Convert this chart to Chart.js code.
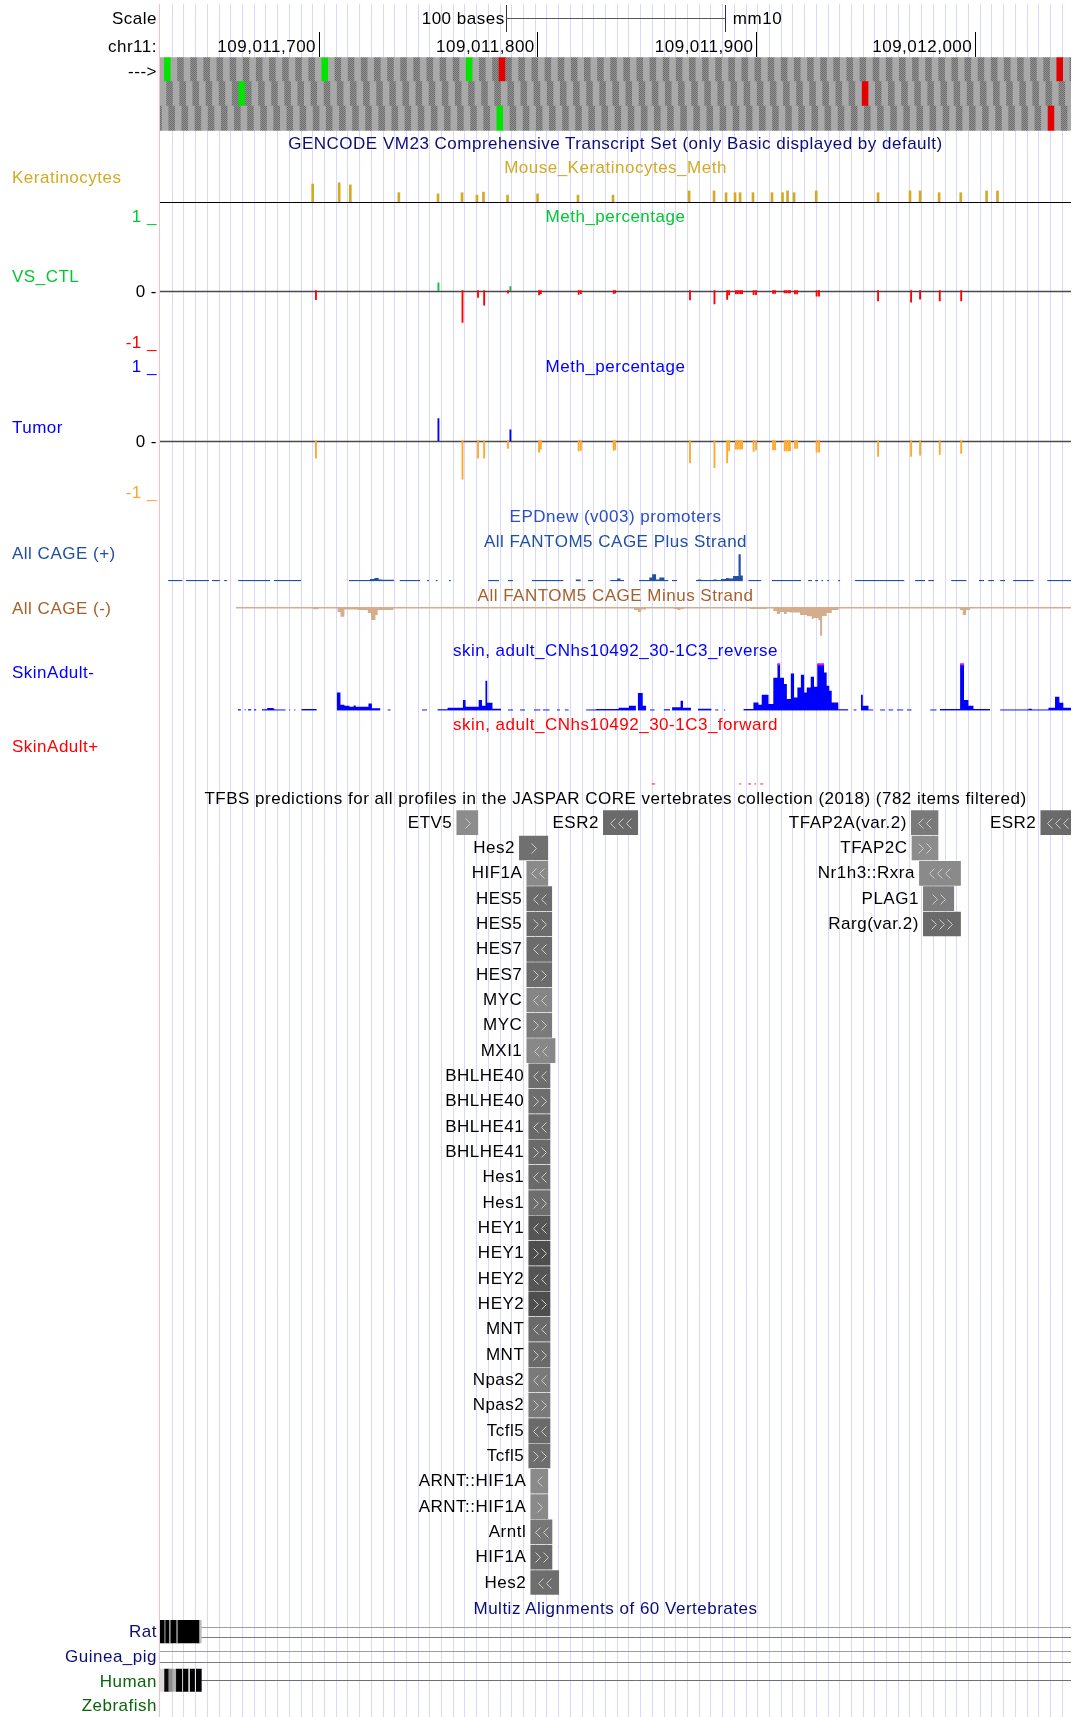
<!DOCTYPE html>
<html>
<head>
<meta charset="utf-8">
<title>chr11:109,011,628-109,012,044</title>
<script src="https://cdn.jsdelivr.net/npm/chart.js@4.4.1/dist/chart.umd.min.js"></script>
<style>
  html, body { margin: 0; padding: 0; background: #fff; }
  #page { position: relative; width: 1076px; height: 1717px; overflow: hidden;
          font-family: "Liberation Sans", Arial, Helvetica, sans-serif; font-size: 17px; letter-spacing: 0.5px; }
  #page canvas { position: absolute; left: 0; z-index: 1; }
  .t { position: absolute; white-space: nowrap; line-height: 20px; height: 20px; z-index: 5; }
</style>
</head>
<body>
<div id="page"></div>
<script>
// ---------- window ----------
const CHROM = 'chr11';
const ASSEMBLY = 'mm10';
const REGION_START = 109011627.5;      // genomic coordinate at the left edge of the data area
const REGION_END = 109012044;
const rulerTicks = [109011700, 109011800, 109011900, 109012000];
const SCALE_BAR_BASES = 100;
const GUIDE_STEP = 5.354;              // spacing of the blue guidelines, in bases

// ---------- base position track (three reading frames) ----------
const codonFrames = [2, 0, 1];
const codonShadePhase = [2, 3, 4];
const startCodons = [[2, 74, 140], [36], [154]];
const stopCodons = [[155, 410], [321], [406]];

// ---------- Mouse_Keratinocytes_Meth (offsets from window start) ----------
const kerSites = [69.8, 81.9, 87.0, 109.2, 127.1, 138.1, 144.9, 147.9, 158.9, 172.6, 191.1, 207.1, 241.9, 253.3,
  258.8, 262.9, 265.2, 271.1, 279.8, 284.6, 286.9, 289.9, 300.0, 328.3, 342.9, 347.5, 356.2, 366.1, 377.9, 382.9];
const kerValues = [0.60, 0.64, 0.57, 0.31, 0.27, 0.31, 0.23, 0.33, 0.23, 0.27, 0.23, 0.23, 0.37, 0.37,
  0.31, 0.31, 0.31, 0.31, 0.31, 0.31, 0.37, 0.31, 0.37, 0.31, 0.37, 0.37, 0.31, 0.31, 0.37, 0.37];

// ---------- Meth_percentage: VS_CTL and Tumor ----------
const methSites = [71.3, 127.3, 138.3, 145.4, 148.2, 159.1, 160.2, 173.3, 174.1, 191.4, 192.4, 207.4, 208.1,
  242.3, 253.5, 259.3, 260.2, 263.3, 264.2, 265.2, 266.1, 271.4, 272.5, 280.3, 281.2, 285.6, 286.4, 287.3,
  288.0, 290.3, 291.3, 300.2, 301.3, 328.3, 343.4, 347.5, 356.5, 366.3];
const vsCtlValues = [-0.15, 0.13, -0.53, -0.11, -0.24, -0.04, 0.07, -0.07, -0.05, -0.06, -0.05, -0.045, -0.04,
  -0.155, -0.22, -0.145, -0.07, -0.055, -0.05, -0.05, -0.05, -0.065, -0.065, -0.045, -0.045, -0.035, -0.035, -0.035,
  -0.035, -0.055, -0.055, -0.09, -0.09, -0.17, -0.19, -0.14, -0.17, -0.17];
const tumorValues = [-0.29, 0.37, -0.64, -0.29, -0.29, -0.13, 0.18, -0.19, -0.14, -0.17, -0.16, -0.16, -0.15,
  -0.37, -0.45, -0.37, -0.17, -0.14, -0.14, -0.14, -0.14, -0.18, -0.155, -0.155, -0.155, -0.17, -0.17, -0.17,
  -0.17, -0.13, -0.13, -0.19, -0.19, -0.26, -0.26, -0.24, -0.23, -0.21];

// ---------- CAGE signal, as [start, end, value] runs ----------
const cagePlusRuns = [
  [3.7, 10.3, 1.5], [11.9, 22.4, 1.5], [23.8, 27.4, 1.5], [29.3, 30.6, 1.5], [35.7, 50.3, 1.5], [52.1, 64.5, 1.5],
  [86.4, 96, 1.5], [96, 98, 2.5], [98, 100, 3.5], [100, 101.5, 2], [101.5, 107, 1.8], [109.5, 118.9, 1.5],
  [122, 123, 1.5], [126, 127, 1.5], [132, 133, 1.5], [150, 155, 1.5], [159, 161.4, 1.5], [170, 184.5, 1.5],
  [190, 192.4, 2], [195.5, 198, 1.5], [205.8, 209, 1.5], [209, 210.5, 3], [210.5, 212.2, 1.5],
  [219, 223.7, 1.5], [223.7, 225, 4], [225, 226.8, 7.3], [226.8, 228.3, 2], [228.3, 230.6, 4], [230.6, 232.5, 1.5],
  [234, 236.4, 1.5],
  [245, 246, 1.5], [246, 247.5, 2], [247.5, 253, 1.5], [253, 254.5, 2], [254.5, 256.5, 1.5], [256.5, 258.8, 2.5],
  [258.8, 260, 3.5], [260, 262, 3], [262, 264.5, 5.5], [264.5, 265.5, 27.3], [265.5, 266.5, 6],
  [268.9, 275, 1.5], [279.8, 293.1, 1.5], [296.3, 298.1, 1.5], [299.5, 300.9, 1.5], [302.3, 303.2, 1.5],
  [305, 306, 1.5], [310, 311, 1.5], [317.6, 340.4, 1.5], [345.2, 349.8, 1.5], [351.2, 353.9, 1.5],
  [361.7, 368.8, 1.5], [374.3, 376.8, 1.5], [378.6, 381.3, 1.5], [384.1, 386.4, 1.5], [390, 399.5, 1.5],
  [405.6, 416.5, 1.5]
];
const cageMinusRuns = [
  [34.7, 70, -1.5], [70, 72.5, -2.3], [72.5, 81.2, -1.5], [81.2, 82.5, -5], [82.5, 84.3, -9.7], [84.3, 90.5, -2.5],
  [90.5, 95, -3], [95, 96.5, -6], [96.5, 98.5, -13], [98.5, 99.5, -8], [99.5, 106.7, -3],
  [106.7, 216.7, -1.5], [216.7, 218.5, -3], [218.5, 220, -5], [220, 222.2, -2.5], [222.2, 234.9, -1.5],
  [234.9, 236.5, -2], [236.5, 238, -3], [238, 239.6, -2],
  [239.6, 269.6, -1.5], [269.6, 277.5, -2], [277.5, 280.4, -1.5], [280.4, 282, -4], [282, 283.5, -7],
  [283.5, 285.3, -5], [285.3, 286.5, -7], [286.5, 288, -5], [288, 292.6, -5.5], [292.6, 295.7, -8],
  [295.7, 298, -9.3], [298, 298.7, -12], [298.7, 301, -11], [301, 301.8, -13], [301.8, 302.7, -28.7],
  [302.7, 304.8, -9], [304.8, 307.1, -6], [307.1, 310.2, -3],
  [310.2, 365.8, -1.5], [365.8, 367, -3], [367, 368.5, -8], [368.5, 370.4, -3], [370.4, 416.5, -1.5]
];
const skinRevRuns = [
  [35.5, 37, 1.5], [38.6, 39.2, 1.5], [40.2, 41.8, 1.5], [43, 44.1, 1.5],
  [46.5, 49, 1.5], [49, 52, 2.7], [52, 52.8, 1.5], [52.8, 57.5, 1.3], [59, 59.6, 1.3], [61.3, 62, 1.3], [64.6, 71.7, 1.6],
  [80.8, 82.5, 18.3], [82.5, 84.3, 6], [84.3, 86.6, 5], [86.6, 88.5, 4], [88.5, 89.5, 5.3], [89.5, 91.4, 4],
  [91.4, 95.3, 4], [95.3, 96.9, 7.3], [96.9, 100.8, 2.5],
  [104, 105.5, 1.3], [119.7, 122.1, 1.3], [126.8, 131.5, 1.5], [131.5, 138.5, 3], [138.5, 139.7, 10.7],
  [139.7, 145.7, 4], [145.7, 147.2, 10.7], [147.2, 148.8, 5], [148.8, 149.6, 30], [149.6, 152, 8], [152, 155.9, 2],
  [159.1, 161.4, 1.3], [164.6, 166.9, 1.3], [170.9, 174, 1.3], [175, 178.2, 1.3], [181.4, 183, 1.3], [185, 186.9, 1.3],
  [194.8, 199.4, 1.3], [199.4, 209.7, 1.8], [209.7, 214.4, 3], [214.4, 217.6, 5], [218.4, 220.7, 17.7],
  [220.7, 222.3, 5], [223.9, 226.2, 1.3],
  [230.2, 233.3, 1.5], [234.1, 238, 3.5], [238, 239.1, 10], [239.1, 242.8, 3], [245.9, 252.2, 2],
  [253.8, 255.4, 1.3], [257.7, 258.5, 1.3],
  [266.7, 271.3, 1.8], [271.3, 273.6, 8.3], [273.6, 275.1, 6], [275.1, 278.2, 16], [278.2, 280.4, 6.7],
  [280.4, 282.3, 33], [282.3, 283.5, 56], [283.5, 285.3, 33], [285.3, 286.6, 26.7], [286.6, 288.4, 11.7],
  [288.4, 289.9, 37.3], [289.9, 291.4, 13.3], [291.4, 293, 23.3], [293, 294.5, 36], [294.5, 295.7, 18.3],
  [295.7, 297.5, 23.3], [297.5, 299, 34], [299, 300.5, 24], [300.5, 303.6, 64], [303.6, 304.8, 38.3],
  [304.8, 306, 25], [306, 307.1, 20], [307.1, 310.1, 8.3], [310.1, 314.7, 1.5],
  [317, 318.5, 1.3], [320.4, 321.3, 16], [321.3, 323.9, 5], [323.9, 326.2, 1.3], [329.2, 331.5, 1.3],
  [333, 335.3, 1.3], [336.9, 339.9, 1.3], [341.4, 343.7, 1.3], [352.1, 355.1, 1.3], [356.6, 365.8, 1.8],
  [365.8, 367.6, 58], [367.6, 369.6, 10.7], [369.6, 371.9, 5], [371.9, 379.5, 1.8],
  [384.1, 397, 1.3], [397, 398.6, 2], [398.6, 406.2, 1.3], [406.2, 409.2, 3], [409.2, 411.2, 14],
  [411.2, 413, 8], [413, 416.5, 3]
];
const skinFwdRuns = [[224.7, 226.5, 1.2], [264.8, 265.8, 1.2], [268.9, 270.3, 1.2], [271.7, 272.6, 1.2], [274.4, 275.8, 1.2]];
const SKIN_MAX = 47.3;

// ---------- JASPAR TFBS ----------
const tfNames = ['ETV5', 'ESR2', 'TFAP2A(var.2)', 'ESR2', 'Hes2', 'TFAP2C', 'HIF1A', 'Nr1h3::Rxra', 'HES5', 'PLAG1',
  'HES5', 'Rarg(var.2)', 'HES7', 'HES7', 'MYC', 'MYC', 'MXI1', 'BHLHE40', 'BHLHE40', 'BHLHE41', 'BHLHE41', 'Hes1',
  'Hes1', 'HEY1', 'HEY1', 'HEY2', 'HEY2', 'MNT', 'MNT', 'Npas2', 'Npas2', 'Tcfl5', 'Tcfl5', 'ARNT::HIF1A',
  'ARNT::HIF1A', 'Arntl', 'HIF1A', 'Hes2'];
const tfRows = [0, 0, 0, 0, 1, 1, 2, 2, 3, 3, 4, 4, 5, 6, 7, 8, 9, 10, 11, 12, 13, 14, 15, 16, 17, 18, 19, 20, 21,
  22, 23, 24, 25, 26, 27, 28, 29, 30];
const tfStart = [135.7, 202.7, 343.5, 402.7, 164.3, 343.8, 167.7, 347.2, 167.7, 349, 167.7, 349, 167.7, 167.7,
  167.7, 167.7, 167.7, 168.6, 168.6, 168.6, 168.6, 168.6, 168.6, 168.6, 168.6, 168.6, 168.6, 168.6, 168.6, 168.6,
  168.6, 168.6, 168.6, 169.5, 169.5, 169.5, 169.5, 169.5];
const tfEnd = [145.3, 218.4, 355.7, 418.0, 177.3, 355.7, 177.3, 366, 179.1, 362.9, 179.1, 366, 179.1, 179.1,
  179.1, 179.1, 180.6, 178.3, 178.3, 178.3, 178.3, 178.3, 178.3, 178.3, 178.3, 178.3, 178.3, 178.3, 178.3, 178.3,
  178.3, 178.3, 178.3, 177.3, 177.3, 179.2, 179.2, 182.3];
const tfArrows = ['>', '<<<', '<<', '<<<', '>', '>>', '<<', '<<<', '<<', '>>', '>>', '>>>', '<<', '>>', '<<', '>>',
  '<<', '<<', '>>', '<<', '>>', '<<', '>>', '<<', '>>', '<<', '>>', '<<', '>>', '<<', '>>', '<<', '>>', '<', '>',
  '<<', '>>', '<<'];
const tfShade = [140, 106, 122, 106, 112, 140, 138, 138, 108, 125, 108, 106, 108, 108, 133, 122, 136, 110, 110,
  106, 106, 106, 110, 85, 78, 85, 78, 106, 106, 122, 122, 106, 110, 138, 138, 118, 106, 110];

// ---------- Multiz alignments ----------
const mzRows = ['Rat', 'Guinea_pig', 'Human'];
const mzBlockRow = ['Rat', 'Rat', 'Rat', 'Rat', 'Rat', 'Rat', 'Rat', 'Rat',
  'Human', 'Human', 'Human', 'Human', 'Human', 'Human', 'Human', 'Human', 'Human', 'Human', 'Human'];
const mzBlockStart = [0, 2.1, 2.7, 4.3, 5, 7.5, 8.4, 18.1, 0, 2.1, 4, 5.8, 7.5, 10.3, 10.7, 13.1, 13.8, 16.1, 16.6];
const mzBlockEnd = [2.1, 2.7, 4.3, 5, 7.5, 8.4, 18.1, 18.9, 2.1, 4, 5.8, 7.5, 10.3, 10.7, 13.1, 13.8, 16.1, 16.6, 18.9];
const mzBlockShade = [0, 130, 0, 165, 0, 120, 0, 190, 220, 10, 140, 175, 0, 235, 0, 235, 0, 235, 0];
const mzLineRow = ['Rat', 'Guinea_pig', 'Human'];
const mzLineStart = [18.9, 0, 18.9];
const mzLineKind = ['double', 'double', 'single'];

// ---------- page geometry ----------
const W = 1076, H = 1717, PLOT_L = 160, PLOT_R = 1071;
const SPAN = REGION_END - REGION_START;
const page = document.getElementById('page');

function addText(str, x, cy, align, color) {
  const d = document.createElement('div');
  d.className = 't';
  d.textContent = str;
  d.style.color = color || '#000';
  d.style.top = (cy - 10) + 'px';
  if (align === 'right') d.style.right = (W - x - 0.5) + 'px';
  else if (align === 'center') { d.style.left = x + 'px'; d.style.transform = 'translateX(-50%)'; }
  else d.style.left = x + 'px';
  page.appendChild(d);
  return d;
}

function makeChart(areaTop, areaBottom, config, canvasTop, canvasBottom) {
  const cTop = canvasTop !== undefined ? canvasTop : Math.floor(areaTop) - 4;
  const cBot = canvasBottom !== undefined ? canvasBottom : Math.ceil(areaBottom) + 4;
  const cH = cBot - cTop;
  const cv = document.createElement('canvas');
  cv.width = W; cv.height = cH;
  cv.style.top = cTop + 'px';
  cv.style.width = W + 'px';
  cv.style.height = cH + 'px';
  page.appendChild(cv);
  const o = config.options || (config.options = {});
  o.responsive = false;
  o.animation = false;
  o.events = [];
  o.devicePixelRatio = 1;
  o.layout = { padding: { left: PLOT_L, right: W - PLOT_R, top: areaTop - cTop, bottom: cBot - areaBottom } };
  o.plugins = Object.assign({ legend: { display: false }, tooltip: { enabled: false }, title: { display: false } }, o.plugins || {});
  const chart = new Chart(cv, config);
  chart.$top = cTop;
  return chart;
}

const xScale = () => ({ type: 'linear', min: 0, max: SPAN, display: false, offset: false });

function hline(ctx, x0, x1, y) { ctx.beginPath(); ctx.moveTo(x0, y); ctx.lineTo(x1, y); ctx.stroke(); }
function vline(ctx, x, y0, y1) { ctx.beginPath(); ctx.moveTo(x, y0); ctx.lineTo(x, y1); ctx.stroke(); }

function zeroLine(color, width) {
  return {
    id: 'zeroLine',
    beforeDatasetsDraw(chart) {
      const { ctx, chartArea: a, scales: { y } } = chart;
      const py = Math.round(y.getPixelForValue(0)) + 0.5;
      ctx.save(); ctx.strokeStyle = color; ctx.lineWidth = width;
      hline(ctx, a.left, a.right, py);
      ctx.restore();
    }
  };
}

function runsToPoints(runs) {
  const pts = [];
  let prevEnd = null;
  for (const [s, e, v] of runs) {
    if (prevEnd !== null && s - prevEnd > 0.01) pts.push({ x: (prevEnd + s) / 2, y: null });
    pts.push({ x: s, y: v }, { x: e, y: v });
    prevEnd = e;
  }
  return pts;
}

function signalChart(areaTop, areaBottom, runs, color, yMin, yMax, plugins) {
  return makeChart(areaTop, areaBottom, {
    type: 'line',
    data: { datasets: [{ data: runsToPoints(runs), backgroundColor: color, borderColor: color, borderWidth: 0,
      pointRadius: 0, fill: 'origin', spanGaps: false, tension: 0, clip: 0 }] },
    options: { scales: { x: xScale(), y: { display: false, min: yMin, max: yMax } } },
    plugins: plugins || []
  });
}

// ---------- guidelines behind every track ----------
const guidePlugin = {
  id: 'guides',
  beforeDraw(chart) {
    const { ctx, chartArea: a, scales: { x } } = chart;
    ctx.save();
    ctx.lineWidth = 1;
    ctx.strokeStyle = '#d8d8fb';
    for (let v = GUIDE_STEP; v < SPAN; v += GUIDE_STEP) {
      vline(ctx, Math.round(x.getPixelForValue(v)) + 0.5, a.top, a.bottom);
    }
    ctx.strokeStyle = '#ffbdbd';
    vline(ctx, Math.round(x.getPixelForValue(0)) - 0.5, a.top, a.bottom);
    ctx.restore();
  }
};
makeChart(4, H, { type: 'bar', data: { datasets: [] },
  options: { scales: { x: xScale(), y: { display: false, min: 0, max: 1 } } }, plugins: [guidePlugin] }, 0, H);

// ---------- ruler and base position ----------
const pc = document.createElement('canvas');
pc.width = 2; pc.height = 2;
const pg = pc.getContext('2d');
pg.fillStyle = '#939393'; pg.fillRect(0, 0, 2, 2);
pg.fillStyle = '#6c6c6c'; pg.fillRect(0, 0, 1, 1); pg.fillRect(1, 1, 1, 1);
const darkCodon = pg.createPattern(pc, 'repeat');

const codonRows = ['frame1', 'frame2', 'frame3'];
const codonData = [], codonColors = [];
codonFrames.forEach((f, r) => {
  for (let s = f - 3; s < SPAN; s += 3) {
    codonData.push({ x: [s, s + 3], y: codonRows[r] });
    let c;
    if (startCodons[r].includes(s)) c = '#00e400';
    else if (stopCodons[r].includes(s)) c = '#e40000';
    else c = ((((s - codonShadePhase[r]) % 6) + 6) % 6 === 0) ? darkCodon : '#a9a9a9';
    codonColors.push(c);
  }
});

const rulerPlugin = {
  id: 'ruler',
  afterDraw(chart) {
    const { ctx, scales: { x } } = chart;
    const mid = SPAN / 2;
    const x0 = Math.round(x.getPixelForValue(mid - SCALE_BAR_BASES / 2)) + 0.5;
    const x1 = Math.round(x.getPixelForValue(mid + SCALE_BAR_BASES / 2)) + 0.5;
    ctx.save();
    ctx.lineWidth = 1;
    ctx.strokeStyle = '#5a5a5a';
    hline(ctx, x0, x1, 18.5);
    ctx.strokeStyle = '#333';
    vline(ctx, x0, 5, 32);
    vline(ctx, x1, 5, 32);
    ctx.strokeStyle = '#000';
    rulerTicks.forEach(t => vline(ctx, Math.round(x.getPixelForValue(t - REGION_START)) + 0.5, 32, 57));
    ctx.restore();
  }
};

const codonChart = makeChart(57.3, 130.7, {
  type: 'bar',
  data: { labels: codonRows, datasets: [{ data: codonData, backgroundColor: codonColors, borderWidth: 0,
    barThickness: 24.6, clip: 0 }] },
  options: { indexAxis: 'y', scales: { x: xScale(), y: { type: 'category', display: false, offset: true } } },
  plugins: [rulerPlugin]
}, 0, 134);

const rx = codonChart.scales.x;
addText('Scale', 156.5, 19.3, 'right');
addText(CHROM + ':', 156.5, 46.7, 'right');
addText('--->', 156.5, 71.7, 'right');
addText(SCALE_BAR_BASES + ' bases', rx.getPixelForValue(SPAN / 2 - SCALE_BAR_BASES / 2) - 2, 19.3, 'right');
addText(ASSEMBLY, rx.getPixelForValue(SPAN / 2 + SCALE_BAR_BASES / 2) + 8, 19.3, 'left');
rulerTicks.forEach(t => addText(t.toLocaleString('en-US'), rx.getPixelForValue(t - REGION_START) - 3, 46.7, 'right'));

// ---------- methylation tracks ----------
makeChart(172, 202, {
  type: 'bar',
  data: { datasets: [{ data: kerSites.map((s, i) => ({ x: s, y: kerValues[i] })), backgroundColor: '#d3aa22',
    borderWidth: 0, barThickness: 2, clip: 0 }] },
  options: { scales: { x: xScale(), y: { display: false, min: 0, max: 1 } } },
  plugins: [zeroLine('#000', 1)]
});

makeChart(230.7, 350.7, {
  type: 'bar',
  data: { datasets: [{ data: methSites.map((s, i) => ({ x: s, y: vsCtlValues[i] })),
    backgroundColor: vsCtlValues.map(v => v >= 0 ? '#00c832' : '#ff0000'), borderWidth: 0, barThickness: 1.2, clip: 0 }] },
  options: { scales: { x: xScale(), y: { display: false, min: -1, max: 1 } } },
  plugins: [zeroLine('#4a4a4a', 1.5)]
});

makeChart(380.7, 500.7, {
  type: 'bar',
  data: { datasets: [{ data: methSites.map((s, i) => ({ x: s, y: tumorValues[i] })),
    backgroundColor: tumorValues.map(v => v >= 0 ? '#0000ff' : '#ffa82a'), borderWidth: 0, barThickness: 1.2, clip: 0 }] },
  options: { scales: { x: xScale(), y: { display: false, min: -1, max: 1 } } },
  plugins: [zeroLine('#4a4a4a', 1.5)]
});

// ---------- CAGE tracks ----------
signalChart(551.5, 581.5, cagePlusRuns, '#2151a6', 0, 30);
signalChart(607, 640, cageMinusRuns, '#d4ad8c', -33, 0);

const clipMarkPlugin = {
  id: 'clipMarks',
  afterDatasetsDraw(chart) {
    const { ctx, chartArea: a, scales: { x, y } } = chart;
    ctx.save();
    ctx.fillStyle = '#ff00ff';
    skinRevRuns.forEach(([s, e, v]) => {
      if (v > y.max) {
        const x0 = x.getPixelForValue(s), x1 = x.getPixelForValue(e);
        ctx.fillRect(x0, a.top, x1 - x0, 2);
      }
    });
    ctx.restore();
  }
};
signalChart(663.4, 710.7, skinRevRuns, '#0000ff', 0, SKIN_MAX, [clipMarkPlugin]);
signalChart(737.4, 784.7, skinFwdRuns, '#ff0000', 0, SKIN_MAX);

// ---------- TFBS ----------
const tfRowLabels = Array.from({ length: Math.max(...tfRows) + 1 }, (_, i) => 'row' + i);
const chevronPlugin = {
  id: 'chevrons',
  afterDatasetsDraw(chart) {
    const { ctx, chartArea: a } = chart;
    ctx.save();
    ctx.beginPath(); ctx.rect(a.left, a.top, a.right - a.left, a.bottom - a.top); ctx.clip();
    ctx.strokeStyle = '#cbcbcb';
    ctx.lineWidth = 1;
    chart.getDatasetMeta(0).data.forEach((el, i) => {
      const glyph = tfArrows[i];
      const n = glyph.length;
      const right = glyph[0] === '>';
      const left = Math.min(el.x, el.base), w = Math.abs(el.x - el.base);
      const span = 5 + (n - 1) * 8;
      const cx0 = left + (w - span) / 2;
      const cy = Math.round(el.y) + 0.5;
      for (let k = 0; k < n; k++) {
        const cx = Math.round(cx0 + k * 8) + 0.5;
        ctx.beginPath();
        if (right) { ctx.moveTo(cx, cy - 5); ctx.lineTo(cx + 5, cy); ctx.lineTo(cx, cy + 5); }
        else { ctx.moveTo(cx + 5, cy - 5); ctx.lineTo(cx, cy); ctx.lineTo(cx + 5, cy + 5); }
        ctx.stroke();
      }
    });
    ctx.restore();
  }
};
const tfChart = makeChart(810, 1595.2, {
  type: 'bar',
  data: { labels: tfRowLabels, datasets: [{
    data: tfNames.map((n, i) => ({ x: [tfStart[i], tfEnd[i]], y: tfRowLabels[tfRows[i]] })),
    backgroundColor: tfShade.map(g => `rgb(${g},${g},${g})`), borderWidth: 0, barThickness: 24, clip: 0 }] },
  options: { indexAxis: 'y', scales: { x: xScale(), y: { type: 'category', display: false, offset: true } } },
  plugins: [chevronPlugin]
});
tfChart.getDatasetMeta(0).data.forEach((el, i) => {
  addText(tfNames[i], Math.min(el.x, el.base) - 5, tfChart.$top + el.y, 'right');
});

// ---------- Multiz ----------
const mzLinesPlugin = {
  id: 'mzLines',
  beforeDatasetsDraw(chart) {
    const { ctx, chartArea: a, scales: { x, y } } = chart;
    ctx.save();
    ctx.lineWidth = 1;
    mzLineRow.forEach((row, i) => {
      const cy = y.getPixelForValue(mzRows.indexOf(row));
      const x0 = x.getPixelForValue(mzLineStart[i]);
      if (mzLineKind[i] === 'double') {
        ctx.strokeStyle = '#a0a0a0'; hline(ctx, x0, a.right, Math.round(cy - 5) + 0.5);
        ctx.strokeStyle = '#7c7c7c'; hline(ctx, x0, a.right, Math.round(cy + 5.7) + 0.5);
      } else {
        ctx.strokeStyle = '#707070'; hline(ctx, x0, a.right, Math.round(cy) + 0.5);
      }
    });
    ctx.restore();
  }
};
makeChart(1619.5, 1692.4, {
  type: 'bar',
  data: { labels: mzRows, datasets: [{
    data: mzBlockRow.map((r, i) => ({ x: [mzBlockStart[i], mzBlockEnd[i]], y: r })),
    backgroundColor: mzBlockShade.map(g => `rgb(${g},${g},${g})`), borderWidth: 0, barThickness: 22.5, clip: 0 }] },
  options: { indexAxis: 'y', scales: { x: xScale(), y: { type: 'category', display: false, offset: true } } },
  plugins: [mzLinesPlugin]
});

// ---------- track titles and side labels ----------
const CX = (PLOT_L + PLOT_R) / 2;
addText('GENCODE VM23 Comprehensive Transcript Set (only Basic displayed by default)', CX, 144, 'center', '#0c0c78');
addText('Mouse_Keratinocytes_Meth', CX, 168.3, 'center', '#d3aa22');
addText('Keratinocytes', 12, 178.3, 'left', '#d3aa22');

addText('Meth_percentage', CX, 217.3, 'center', '#00c832');
addText('VS_CTL', 12, 277.3, 'left', '#00c832');
addText('1 _', 156.5, 216.7, 'right', '#00c832');
addText('0 -', 156.5, 291.5, 'right', '#000');
addText('-1 _', 156.5, 342.7, 'right', '#ff0000');

addText('Meth_percentage', CX, 367.3, 'center', '#0000ff');
addText('Tumor', 12, 427.7, 'left', '#0000ff');
addText('1 _', 156.5, 366.7, 'right', '#0000ff');
addText('0 -', 156.5, 441.5, 'right', '#000');
addText('-1 _', 156.5, 492.7, 'right', '#ffa82a');

addText('EPDnew (v003) promoters', CX, 517.3, 'center', '#2c4ec4');
addText('All FANTOM5 CAGE Plus Strand', CX, 541.7, 'center', '#1f4fa3');
addText('All CAGE (+)', 12, 554.3, 'left', '#1f4fa3');
addText('All FANTOM5 CAGE Minus Strand', CX, 596, 'center', '#a8602a');
addText('All CAGE (-)', 12, 609, 'left', '#a8602a');
addText('skin, adult_CNhs10492_30-1C3_reverse', CX, 651, 'center', '#0000ff');
addText('SkinAdult-', 12, 673.3, 'left', '#0000ff');
addText('skin, adult_CNhs10492_30-1C3_forward', CX, 725, 'center', '#ff0000');
addText('SkinAdult+', 12, 747.3, 'left', '#ff0000');

addText('TFBS predictions for all profiles in the JASPAR CORE vertebrates collection (2018) (782 items filtered)', CX, 799.3, 'center', '#000');

addText('Multiz Alignments of 60 Vertebrates', CX, 1609, 'center', '#0c0c78');
addText('Rat', 156.5, 1632, 'right', '#0c0c78');
addText('Guinea_pig', 156.5, 1657, 'right', '#0c0c78');
addText('Human', 156.5, 1681.7, 'right', '#0b640b');
addText('Zebrafish', 156.5, 1706, 'right', '#0b640b');
</script>
</body>
</html>
